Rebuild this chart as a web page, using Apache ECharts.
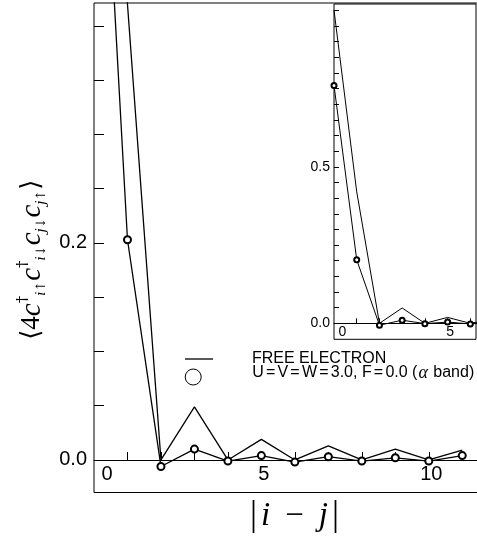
<!DOCTYPE html>
<html>
<head>
<meta charset="utf-8">
<script src="https://cdn.jsdelivr.net/npm/echarts@6/dist/echarts.min.js"></script>
<style>
html,body{margin:0;padding:0;background:#fff;}
#chart{width:477px;height:537px;}
</style>
</head>
<body>
<div id="chart"></div>
<script>
// ---- data ----
const distance = [0, 1, 2, 3, 4, 5, 6, 7, 8, 9, 10, 11];
const freeElectron = [1.0, 0.42, 0.0, 0.049, 0.0, 0.019, 0.0, 0.013, 0.0, 0.010, 0.0, 0.009];
const alphaBand = [0.76, 0.203, -0.006, 0.010, -0.001, 0.004, -0.002, 0.003, -0.001, 0.002, -0.001, 0.004];

const mainXTicks = [1, 2, 3, 4, 5, 6, 7, 8, 9, 10, 11];
const mainXLabels = [0, 5, 10];
const mainYTicks = [0.05, 0.1, 0.15, 0.2, 0.25, 0.3, 0.35, 0.4];
const mainYLabels = [0, 0.2];
const insetXTicks = [1, 2, 3, 4, 5, 6];
const insetXLabels = [0, 5];
const insetYTicks = [0.05,0.1,0.15,0.2,0.25,0.3,0.35,0.4,0.45,0.5,0.55,0.6,0.65,0.7,0.75,0.8,0.85,0.9,0.95,1.0];
const insetYLabels = [0, 0.5];

const NAME_FE = 'FREE ELECTRON';
const NAME_AB = 'U=V=W=3.0, F=0.0 (α band)';

const fePairs = distance.map((d, i) => [d, freeElectron[i]]);
const abPairs = distance.map((d, i) => [d, alphaBand[i]]);

const black = '#000';
const sans = 'Liberation Sans, Arial, sans-serif';

const chart = echarts.init(document.getElementById('chart'));
chart.setOption({
  animation: false,
  backgroundColor: '#fff',
  grid: [
    {left: 94, top: 3, width: 385, height: 489.5, show: true, borderColor: black, borderWidth: 1, backgroundColor: '#fff', containLabel: false, outerBoundsMode: 'none'},
    {left: 334, top: 4, width: 142, height: 335.3, show: true, borderColor: black, borderWidth: 1, backgroundColor: '#fff', containLabel: false, outerBoundsMode: 'none'}
  ],
  xAxis: [
    {
      gridIndex: 0, type: 'value', min: 0, max: 11.5,
      axisLine: {onZero: true, lineStyle: {color: black, width: 1}},
      axisTick: {inside: true, length: 8, customValues: mainXTicks, lineStyle: {color: black, width: 1}},
      axisLabel: {
        customValues: mainXLabels, margin: -28, color: black, fontSize: 20, fontFamily: sans,
        formatter: v => v === 0 ? '{z|0}' : '{o|' + v + '}',
        rich: {
          z: {fontSize: 20, fontFamily: sans, color: black, padding: [0, 0, 0, 26]},
          o: {fontSize: 20, fontFamily: sans, color: black, padding: [0, 0, 0, 5]}
        }
      },
      splitLine: {show: false},
      name: '{b||}{i|i}{m|−}{i|j}{b||}',
      nameLocation: 'middle', nameGap: 6,
      nameTextStyle: {
        color: black,
        padding: [0, 0, 0, 16],
        rich: {
          b: {fontSize: 35, fontFamily: 'Liberation Serif', color: black},
          i: {fontSize: 33, fontFamily: 'Liberation Serif', fontStyle: 'italic', color: black, padding: [0, 4, 0, 4]},
          m: {fontSize: 33, fontFamily: 'Liberation Serif', color: black, padding: [0, 11, 0, 11]}
        }
      }
    },
    {
      gridIndex: 1, type: 'value', min: 0, max: 6.25,
      axisLine: {onZero: true, lineStyle: {color: black, width: 1}},
      axisTick: {inside: true, length: 5, customValues: insetXTicks, lineStyle: {color: black, width: 1}},
      axisLabel: {
        customValues: insetXLabels, margin: -14, color: black, fontSize: 14, fontFamily: sans,
        formatter: v => v === 0 ? '{z|0}' : '{o|' + v + '}',
        rich: {
          z: {fontSize: 14, fontFamily: sans, color: black, padding: [0, 0, 0, 17]},
          o: {fontSize: 14, fontFamily: sans, color: black, padding: [0, 0, 0, 5]}
        }
      },
      splitLine: {show: false}
    }
  ],
  yAxis: [
    {
      gridIndex: 0, type: 'value', min: -0.03, max: 0.4212,
      axisLine: {show: false},
      axisTick: {inside: true, length: 10, customValues: mainYTicks, lineStyle: {color: black, width: 1}},
      axisLabel: {customValues: mainYLabels, margin: 7, color: black, fontSize: 20, fontFamily: sans, formatter: v => v.toFixed(1)},
      splitLine: {show: false},
      name: '{p|⟨}{n|4}{c|c}{s|†}{b|i↑}{c|c}{s|†}{b|i↓}{c|c}{b|j↓}{c|c}{b|j↑}{p|⟩}',
      nameLocation: 'middle', nameGap: 46, nameRotate: 90,
      nameTextStyle: {
        color: black,
        padding: [0, 24, 0, 0],
        rich: {
          p: {fontSize: 26, fontFamily: 'DejaVu Serif', color: black, lineHeight: 32},
          n: {fontSize: 27, fontFamily: 'Liberation Serif', color: black, lineHeight: 32},
          c: {fontSize: 29, fontFamily: 'Liberation Serif', fontStyle: 'italic', color: black, lineHeight: 32},
          s: {fontSize: 15, fontFamily: 'DejaVu Serif', color: black, verticalAlign: 'top', lineHeight: 15},
          b: {fontSize: 13, fontFamily: 'DejaVu Serif', fontStyle: 'italic', color: black, verticalAlign: 'bottom', lineHeight: 13}
        }
      }
    },
    {
      gridIndex: 1, type: 'value', min: -0.051, max: 1.02,
      axisLine: {show: false},
      axisTick: {inside: true, length: 5, customValues: insetYTicks, lineStyle: {color: black, width: 1}},
      axisLabel: {customValues: insetYLabels, margin: 4, color: black, fontSize: 14, fontFamily: sans, formatter: v => v.toFixed(1)},
      splitLine: {show: false}
    }
  ],
  legend: [
    {
      data: [{name: NAME_FE, icon: 'rect'}], left: 185, top: 351, orient: 'vertical', padding: 0,
      itemWidth: 28, itemHeight: 1.3, symbolKeepAspect: false, selectedMode: false,
      itemStyle: {color: black, borderWidth: 0},
      textStyle: {fontSize: 16, fontFamily: sans, color: black, padding: [0, 0, 10, 34]}
    },
    {
      data: [{name: NAME_AB, icon: 'circle'}], left: 184.7, top: 364, orient: 'vertical', padding: 0,
      itemWidth: 16, itemHeight: 16, selectedMode: false,
      itemStyle: {color: '#fff', borderColor: black, borderWidth: 1},
      textStyle: {
        fontSize: 16, fontFamily: sans, color: black, padding: [0, 0, 8, 46],
        rich: {
          a: {fontSize: 18, fontFamily: 'Liberation Serif', fontStyle: 'italic', color: black, padding: [0, 1, 0, 1]},
          e: {fontSize: 16, fontFamily: sans, color: black, padding: [0, 2.2, 0, 2.2]}
        }
      },
      formatter: () => 'U{e|=}V{e|=}W{e|=}3.0, F{e|=}0.0 ({a|α} band)'
    }
  ],
  series: [
    {
      name: NAME_FE, type: 'line', xAxisIndex: 0, yAxisIndex: 0, data: fePairs,
      symbol: 'none', clip: true, lineStyle: {color: black, width: 1.3}, itemStyle: {color: black}
    },
    {
      name: NAME_AB, type: 'line', xAxisIndex: 0, yAxisIndex: 0, data: abPairs,
      symbol: 'emptyCircle', symbolSize: 7, clip: true,
      lineStyle: {color: black, width: 1.3}, itemStyle: {color: black, borderColor: black, borderWidth: 1}
    },
    {
      name: NAME_FE, type: 'line', xAxisIndex: 1, yAxisIndex: 1, data: fePairs,
      symbol: 'none', clip: true, lineStyle: {color: black, width: 1}, itemStyle: {color: black}
    },
    {
      name: NAME_AB, type: 'line', xAxisIndex: 1, yAxisIndex: 1, data: abPairs,
      symbol: 'emptyCircle', symbolSize: 5, clip: true,
      lineStyle: {color: black, width: 1}, itemStyle: {color: black, borderColor: black, borderWidth: 1}
    }
  ]
});
</script>
</body>
</html>
